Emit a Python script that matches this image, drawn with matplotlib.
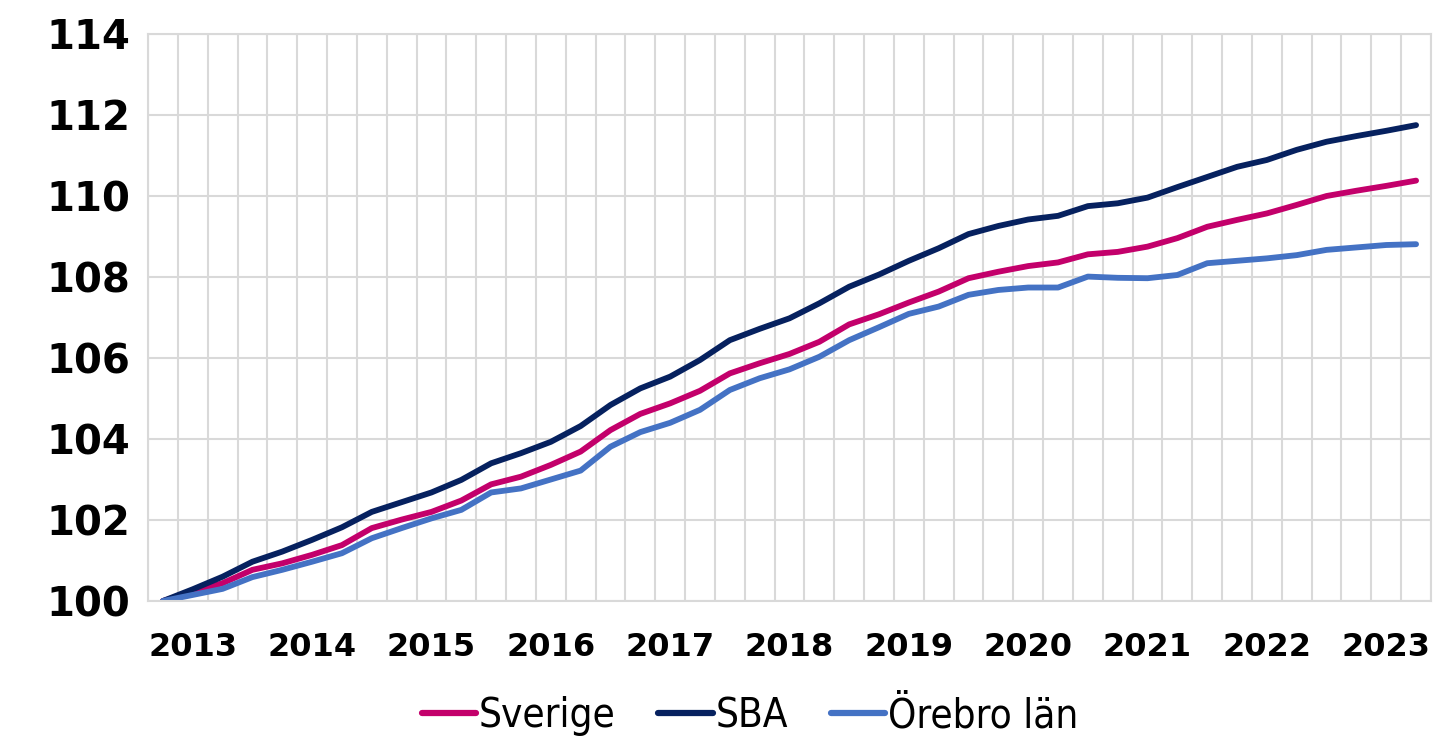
import matplotlib
matplotlib.use("Agg")
import matplotlib.pyplot as plt
from matplotlib.ticker import MultipleLocator, FixedLocator
from matplotlib import font_manager as fm
import numpy as np

# ---- data ----
quarters = ["2012K4"] + [f"{y}K{q}" for y in range(2013, 2023) for q in (1, 2, 3, 4)] + ["2023K1", "2023K2"]

sverige = [100.00, 100.23, 100.44, 100.77, 100.93, 101.14, 101.38, 101.80, 102.01, 102.20,
           102.48, 102.88, 103.07, 103.36, 103.69, 104.22, 104.62, 104.88, 105.19, 105.62,
           105.87, 106.10, 106.40, 106.83, 107.08, 107.37, 107.64, 107.97, 108.13, 108.27,
           108.36, 108.56, 108.62, 108.75, 108.96, 109.24, 109.41, 109.57, 109.78, 110.00,
           110.13, 110.25, 110.38]
sba = [100.00, 100.29, 100.60, 100.97, 101.22, 101.51, 101.82, 102.20, 102.44, 102.68,
       102.99, 103.40, 103.65, 103.93, 104.32, 104.84, 105.25, 105.54, 105.95, 106.44,
       106.72, 106.98, 107.35, 107.76, 108.06, 108.40, 108.71, 109.06, 109.26, 109.42,
       109.51, 109.75, 109.82, 109.96, 110.22, 110.47, 110.72, 110.89, 111.14, 111.34,
       111.48, 111.61, 111.75]
orebro = [100.00, 100.15, 100.30, 100.59, 100.77, 100.97, 101.18, 101.55, 101.80, 102.04,
          102.25, 102.68, 102.78, 103.00, 103.22, 103.81, 104.17, 104.40, 104.72, 105.21,
          105.50, 105.72, 106.03, 106.44, 106.76, 107.09, 107.27, 107.56, 107.68, 107.74,
          107.74, 108.01, 107.98, 107.97, 108.05, 108.34, 108.40, 108.46, 108.54, 108.67,
          108.73, 108.79, 108.81]
series_names = ["Sverige", "SBA", "Örebro län"]
colors = ["#C3006B", "#06215F", "#4472C4"]

# ---- legend font: prefer a condensed sans ----
def find_condensed():
    cands = []
    for f in fm.fontManager.ttflist:
        fn = f.fname.lower()
        if "dejavusanscondensed.ttf" in fn:
            return fm.FontProperties(fname=f.fname, size=29)
        if "liberationsansnarrow-regular" in fn:
            cands.append(f.fname)
    if cands:
        return fm.FontProperties(fname=cands[0], size=33)
    return fm.FontProperties(family="DejaVu Sans", size=26)

leg_prop = find_condensed()

# ---- figure ----
fig = plt.figure(figsize=(14.37, 7.39), dpi=100)
ax = fig.add_axes([148 / 1437, 1 - 601 / 739, (1431 - 148) / 1437, (601 - 34) / 739])

x = np.arange(len(quarters))
for vals, name, c in zip([sverige, sba, orebro], series_names, colors):
    ax.plot(x, vals, color=c, lw=4.2, label=name, solid_capstyle="round", solid_joinstyle="round")

ax.set_xlim(-0.5, len(quarters) - 0.5)
ax.set_ylim(100, 114)

grid_c = "#D9D9D9"
ax.yaxis.set_major_locator(MultipleLocator(2))
ax.xaxis.set_minor_locator(FixedLocator(np.arange(-0.5, len(quarters), 1.0)))
tick_pos = [i for i, q in enumerate(quarters) if q.endswith("K1")]
tick_lab = [quarters[i][:4] for i in tick_pos]
ax.set_xticks(tick_pos)
ax.set_xticklabels(tick_lab)
ax.grid(axis="y", which="major", color=grid_c, lw=1.5)
ax.grid(axis="x", which="minor", color=grid_c, lw=1.5)
ax.grid(axis="x", which="major", visible=False)
ax.set_axisbelow(True)
for s in ax.spines.values():
    s.set_color(grid_c)
    s.set_linewidth(1.5)

ax.tick_params(axis="both", which="both", length=0)
ax.tick_params(axis="y", pad=13)
ax.tick_params(axis="x", pad=22)
for lab in ax.get_yticklabels():
    lab.set_fontfamily("DejaVu Sans")
    lab.set_fontweight("bold")
    lab.set_fontsize(29)
for lab in ax.get_xticklabels():
    lab.set_fontfamily("DejaVu Sans")
    lab.set_fontweight("bold")
    lab.set_fontsize(23)

leg = fig.legend(loc="center", bbox_to_anchor=(750 / 1437, 1 - 716 / 739), ncol=3, frameon=False,
                 prop=leg_prop, handlelength=1.35, handletextpad=0.08, columnspacing=1.05)
for h in leg.get_lines():
    h.set_linewidth(4.5)

fig.savefig("out.png", dpi=100)
